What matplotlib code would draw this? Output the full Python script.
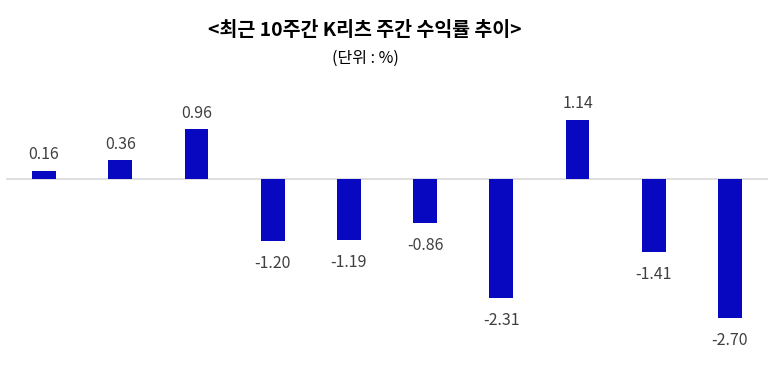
import matplotlib.pyplot as plt
import numpy as np

plt.rcParams['font.family'] = ['Noto Sans CJK KR', 'DejaVu Sans']

weeks = list(range(1, 11))
returns = [0.16, 0.36, 0.96, -1.20, -1.19, -0.86, -2.31, 1.14, -1.41, -2.70]
labels = ['%.2f' % v for v in returns]

fig = plt.figure(figsize=(7.72, 3.66), dpi=100)
# axes placed in pixel terms: x 6..768, y 90..350 (from top)
ax = fig.add_axes([6 / 772, 16 / 366, 762 / 772, 260 / 366])

x = np.arange(len(returns))
bars = ax.bar(x, returns, width=0.31, color='#0808C0', zorder=3)

ax.set_xlim(-0.5, len(returns) - 0.5)
ax.set_ylim(-3.31, 1.72)
ax.axhline(0, color='#D9D9D9', linewidth=1.2, zorder=2)

for xi, v, lab in zip(x, returns, labels):
    if v >= 0:
        ax.annotate(lab, (xi, v), xytext=(0, 5.5), textcoords='offset points',
                    ha='center', va='bottom', fontsize=11.5, color='#404040')
    else:
        ax.annotate(lab, (xi, v), xytext=(0, -10), textcoords='offset points',
                    ha='center', va='top', fontsize=11.5, color='#404040')

ax.axis('off')

fig.text(365 / 772, 1 - 30 / 366, '<최근 10주간 K리츠 주간 수익률 추이>', ha='center', va='center',
         fontsize=14, fontweight='bold', color='black')
fig.text(365 / 772, 1 - 58 / 366, '(단위 : %)', ha='center', va='center',
         fontsize=11.5, color='black')

fig.savefig('out.png', dpi=100)
